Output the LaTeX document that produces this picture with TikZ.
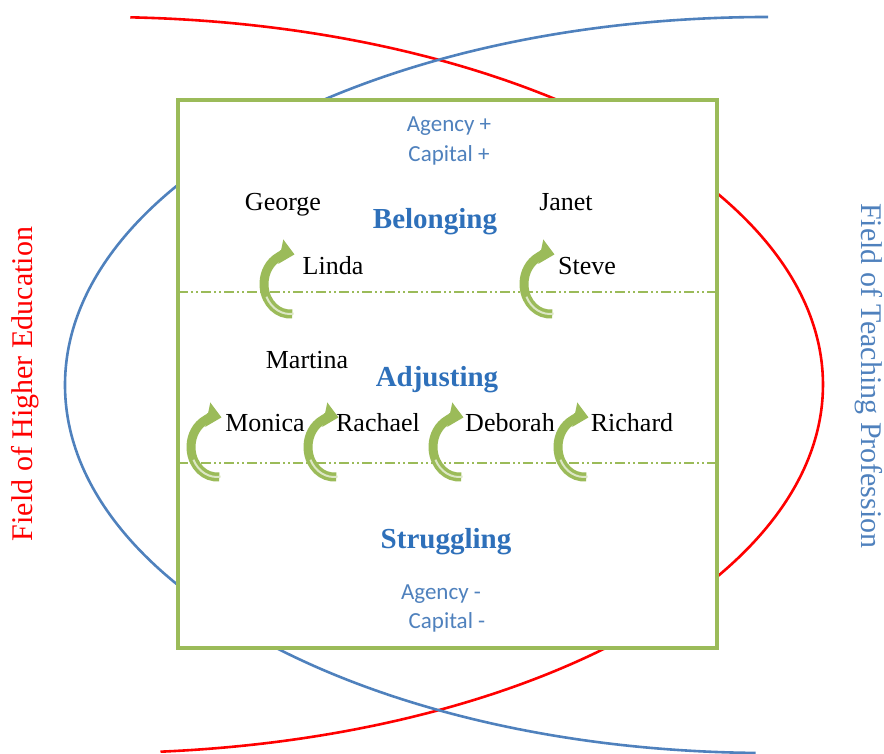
\documentclass[tikz,border=0pt]{standalone}
\usepackage{fontspec}
\setmainfont{Liberation Serif}
\newfontfamily\calibri{Carlito}
\usepackage{tikz}
\usetikzlibrary{arrows.meta}
\definecolor{framegreen}{RGB}{155,187,89}
\definecolor{fieldred}{RGB}{255,0,0}
\definecolor{fieldblue}{RGB}{79,129,189}
\definecolor{zoneblue}{RGB}{46,112,186}
\tikzset{
  fieldline/.style={
    line width=1.3pt
  },
  fieldframe/.style={
    draw=framegreen,
    line width=2pt,
    fill=white
  },
  divider/.style={
    draw=framegreen,
    line width=0.7pt,
    dash pattern=on 5pt off 1.5pt on 1pt off 1.5pt on 1pt off 1.5pt
  },
  zonelabel/.style={
    font=\fontsize{14.5}{17}\selectfont\bfseries,
    text=zoneblue
  },
  namelabel/.style={
    font=\fontsize{13}{15}\selectfont
  },
  capitallabel/.style={
    font=\calibri\fontsize{11.5}{14}\selectfont,
    text=fieldblue
  },
  fieldlabel/.style={
    font=\fontsize{15}{18}\selectfont
  },
  turnline/.style={
    draw=framegreen,
    line width=4.5pt,
    -{Triangle[width=12pt,length=7pt]}
  },
  turnshine/.style={
    draw=white!65!framegreen,
    line width=1pt
  },
  turnarrow/.pic={
    \draw[turnline] (275:13pt and 15pt) arc[start angle=275, end angle=80, x radius=13pt, y radius=15pt];
    \draw[turnshine] (278:13pt and 15pt) arc[start angle=278, end angle=205, x radius=13pt, y radius=15pt];
  }
}

\begin{document}
\begin{tikzpicture}[x=0.5pt, y=0.5pt]
\useasboundingbox (0,0) rectangle (884,754);

% the two fields
\draw[fieldline, draw=fieldred] (100,369) ++(87.6:361.5pt and 184pt)
  arc[start angle=87.6, end angle=-85.2, x radius=361.5pt, y radius=184pt];
\draw[fieldline, draw=fieldblue] (768,369) ++(90:351.5pt and 184pt)
  arc[start angle=90, end angle=269, x radius=351.5pt, y radius=184pt];

\draw[fieldframe] (178,106) rectangle (717,654);
\draw[divider] (178,462) -- (717,462);
\draw[divider] (178,291) -- (717,291);

\node[fieldlabel, text=fieldred, rotate=90] (higher) at (25,370) {Field of Higher Education};
\node[fieldlabel, text=fieldblue, rotate=-90] (teaching) at (869,378) {Field of Teaching Profession};

% belonging
\node[capitallabel] (agencyplus) at (449,628) {Agency +};
\node[capitallabel] (capitalplus) at (449,599) {Capital +};
\node[zonelabel] (belonging) at (435,532) {Belonging};
\node[namelabel] (george) at (283,549) {George};
\node[namelabel] (janet) at (566,552) {Janet};
\node[namelabel] (linda) at (333,488) {Linda};
\node[namelabel] (steve) at (587,488) {Steve};

% adjusting
\node[zonelabel] (adjusting) at (437,374) {Adjusting};
\node[namelabel] (martina) at (307,394) {Martina};
\node[namelabel] (monica) at (265,331) {Monica};
\node[namelabel] (rachael) at (378,331) {Rachael};
\node[namelabel] (deborah) at (510,331) {Deborah};
\node[namelabel] (richard) at (632,331) {Richard};

% struggling
\node[zonelabel] (struggling) at (446,212) {Struggling};
\node[capitallabel] (agencyminus) at (441,160) {Agency -};
\node[capitallabel] (capitalminus) at (447,132) {Capital -};

% moves between zones
\pic (lindaturn) at (290,470) {turnarrow};
\pic (steveturn) at (550,470) {turnarrow};
\pic (monicaturn) at (217,307) {turnarrow};
\pic (rachaelturn) at (334,307) {turnarrow};
\pic (deborahturn) at (459,307) {turnarrow};
\pic (richardturn) at (584,307) {turnarrow};
\end{tikzpicture}
\end{document}
